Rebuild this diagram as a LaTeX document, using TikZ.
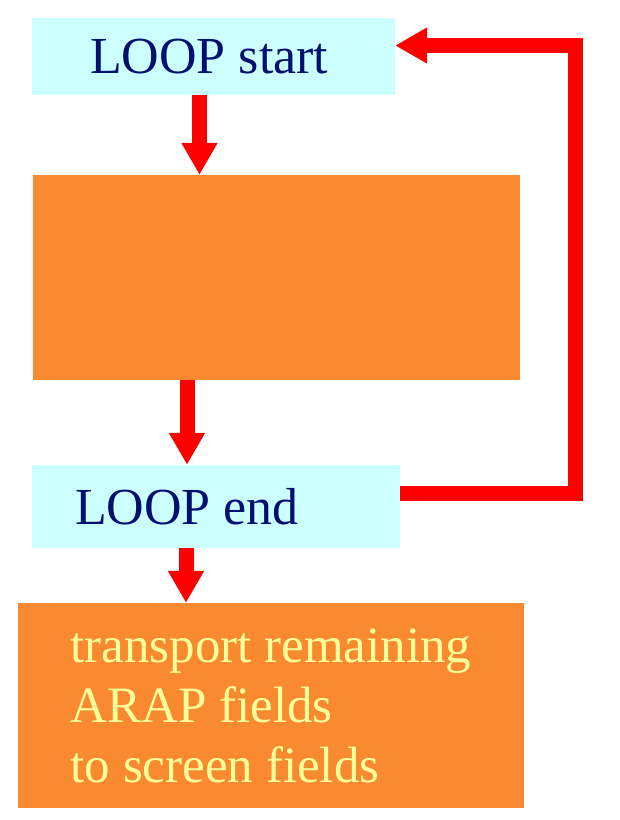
\documentclass[tikz,border=0pt]{standalone}
\usepackage{fontspec}
\setmainfont{Liberation Serif}
\usepackage{tikz}
\usetikzlibrary{arrows.meta}

\definecolor{loopcyan}{HTML}{CCFFFF}
\definecolor{boxorange}{HTML}{F98A31}
\definecolor{loopnavy}{HTML}{001070}
\definecolor{textyellow}{HTML}{FFFF99}

\begin{document}
\begin{tikzpicture}[x = 1pt, y = -1pt,
        loopbox/.style = {fill = loopcyan, text = loopnavy, align = flush left, inner ysep = 0pt,
            font = \fontsize{52}{60}\selectfont},
        workbox/.style = {fill = boxorange, text = textyellow, align = left, inner ysep = 0pt,
            font = \fontsize{51}{60}\selectfont},
        flow/.style = {draw = red, line width = 15pt, -{Triangle[width = 34pt, length = 32pt]}}]
            \useasboundingbox (0, 0) rectangle (620, 820);
            \node [loopbox, inner xsep = 58pt, text width = 247pt, minimum height = 77pt] (start) at (213.5, 56.5) {LOOP start};
            \node [workbox, minimum width = 487pt, minimum height = 205pt] (body) at (276.5, 277.5) {};
            \node [loopbox, inner xsep = 43pt, text width = 282pt, minimum height = 83pt] (end) at (216, 506.5) {LOOP end};
            \node [workbox, inner xsep = 53pt, minimum height = 205pt] (rest) at (271, 705.5) {transport remaining\\ARAP fields\\to screen fields};
            \draw [flow] ([xshift = -14pt]start.south) -- ([xshift = -14pt]start.south |- body.north);
            \draw [flow] ([xshift = -29pt]end.north |- body.south) -- ([xshift = -29pt]end.north);
            \draw [flow] ([xshift = -30pt]end.south) -- ([xshift = -30pt]end.south |- rest.north);
            \draw [flow] ([yshift = 13pt]end.east) -- ++(175, 0) |- ([yshift = 11pt]start.east);
        \end{tikzpicture}
\end{document}
